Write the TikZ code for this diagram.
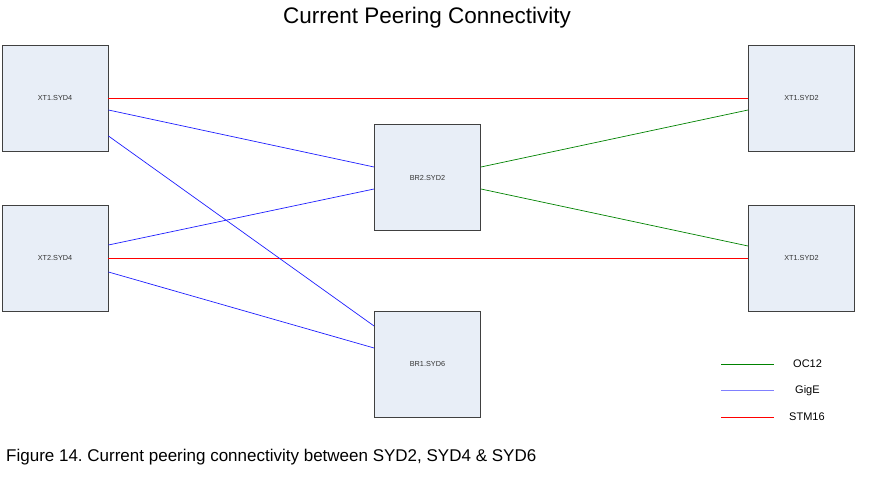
\documentclass[tikz,border=0pt]{standalone}
\usepackage{fontspec}
\setmainfont{Liberation Sans}
\frenchspacing
\begin{document}
\begin{tikzpicture}[x=1pt,y=-1pt,
  router/.style={draw=black!75,fill={rgb,255:red,232;green,238;blue,247},line width=0.9pt,minimum width=106pt,minimum height=106pt,inner sep=0pt,font=\fontsize{7.3}{8}\selectfont,text=black!80},
  stm/.style={draw=red,line width=0.8pt},
  gige/.style={draw={rgb,255:red,30;green,30;blue,255},line width=0.7pt},
  oc/.style={draw={rgb,255:red,0;green,130;blue,0},line width=0.7pt},
  lbl/.style={font=\fontsize{11}{13}\selectfont,anchor=west,inner sep=0pt}]
\useasboundingbox (0,0) rectangle (882,502);
\node[font=\fontsize{22.5}{26}\selectfont] (title) at (427,18) {Current Peering Connectivity};
\node[router] (a) at (55,98) {XT1.SYD4};
\node[router] (b) at (55,258) {XT2.SYD4};
\node[router] (c) at (427.5,177.5) {BR2.SYD2};
\node[router] (d) at (427.5,364) {BR1.SYD6};
\node[router] (e) at (801.5,98) {XT1.SYD2};
\node[router] (f) at (801.5,258) {XT1.SYD2};
% STM16
\draw[stm] (a.east) -- (e.west);
\draw[stm] (b.east) -- (f.west);
% GigE
\draw[gige] ([yshift=-12pt]a.east) -- ([yshift=10.5pt]c.west);
\draw[gige] ([yshift=-38pt]a.east) -- ([yshift=38pt]d.west);
\draw[gige] ([yshift=13pt]b.east) -- ([yshift=-11.5pt]c.west);
\draw[gige] ([yshift=-14pt]b.east) -- ([yshift=16pt]d.west);
% OC12
\draw[oc] ([yshift=10.5pt]c.east) -- ([yshift=-12pt]e.west);
\draw[oc] ([yshift=-11.5pt]c.east) -- ([yshift=12pt]f.west);
% legend
\coordinate (l1a) at (721,364); \coordinate (l1b) at (774,364);
\coordinate (l2a) at (721,390.5); \coordinate (l2b) at (774,390.5);
\coordinate (l3a) at (721,417); \coordinate (l3b) at (774,417);
\draw[oc] (l1a) -- (l1b);
\draw[draw={rgb,255:red,128;green,128;blue,255},line width=1.4pt] (l2a) -- (l2b);
\draw[stm] (l3a) -- (l3b);
\node[lbl] (t1) at (793,364) {OC12};
\node[lbl] (t2) at (795,390.5) {GigE};
\node[lbl] (t3) at (789,417) {STM16};
\node[font=\fontsize{17}{20}\selectfont,anchor=west,inner sep=0pt] (cap) at (6,457) {Figure 14. Current peering connectivity between SYD2, SYD4 \& SYD6};
\end{tikzpicture}
\end{document}
